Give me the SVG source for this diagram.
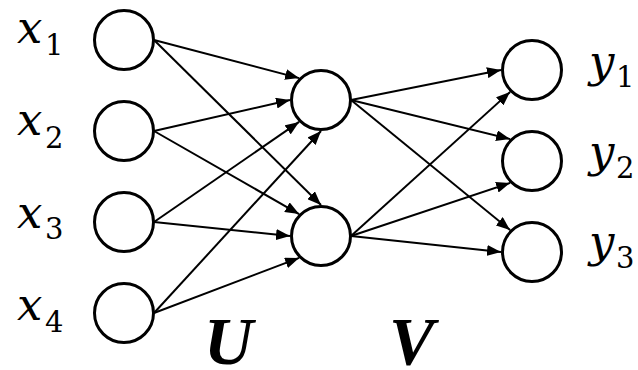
<svg xmlns="http://www.w3.org/2000/svg" width="638" height="370" viewBox="0 0 638 370">
<style>
.node{fill:#fff;stroke:#000;stroke-width:3}
.edge{stroke:#000;stroke-width:2;fill:none;marker-end:url(#ah)}
.v{font-family:"DejaVu Serif","Liberation Serif",serif;font-style:italic;font-size:45px;fill:#000}
.s{font-family:"DejaVu Serif","Liberation Serif",serif;font-size:29px;fill:#000}
.m{font-family:"Liberation Serif",serif;font-style:italic;font-weight:bold;font-size:68px;fill:#000}
</style>
<defs>
<marker id="ah" viewBox="0 0 14 11" markerUnits="userSpaceOnUse" markerWidth="14" markerHeight="11" refX="14" refY="5.5" orient="auto">
<path d="M0,0 L14,5.5 L0,11 z" fill="#000"/>
</marker>
</defs>
<g id="connectors">
<line class="edge" x1="154" y1="40" x2="299.1" y2="78.1"/>
<line class="edge" x1="154" y1="131" x2="290" y2="100"/>
<line class="edge" x1="154" y1="222" x2="299.1" y2="121.9"/>
<line class="edge" x1="154" y1="313" x2="321" y2="131"/>
<line class="edge" x1="154" y1="40" x2="321" y2="205"/>
<line class="edge" x1="154" y1="131" x2="299.1" y2="214.1"/>
<line class="edge" x1="154" y1="222" x2="290" y2="236"/>
<line class="edge" x1="154" y1="313" x2="299.1" y2="257.9"/>
<line class="edge" x1="351" y1="100" x2="501" y2="70"/>
<line class="edge" x1="351" y1="100" x2="510.1" y2="139.1"/>
<line class="edge" x1="351" y1="100" x2="510.1" y2="230.1"/>
<line class="edge" x1="351" y1="236" x2="510.1" y2="91.9"/>
<line class="edge" x1="351" y1="236" x2="510.1" y2="182.9"/>
<line class="edge" x1="351" y1="236" x2="501" y2="252"/>
</g>
<g id="x1"><circle class="node" cx="124" cy="40" r="29.5"/><text class="v" x="17" y="43">x</text><text class="s" x="45" y="55">1</text></g>
<g id="x2"><circle class="node" cx="124" cy="131" r="29.5"/><text class="v" x="17" y="135">x</text><text class="s" x="45" y="148">2</text></g>
<g id="x3"><circle class="node" cx="124" cy="222" r="29.5"/><text class="v" x="17" y="228">x</text><text class="s" x="45" y="239">3</text></g>
<g id="x4"><circle class="node" cx="124" cy="313" r="29.5"/><text class="v" x="17" y="320">x</text><text class="s" x="45" y="332">4</text></g>
<g id="h1"><circle class="node" cx="321" cy="100" r="29.5"/></g>
<g id="h2"><circle class="node" cx="321" cy="236" r="29.5"/></g>
<g id="y1"><circle class="node" cx="532" cy="70" r="29.5"/><text class="v" x="589" y="77">y</text><text class="s" x="616" y="87">1</text></g>
<g id="y2"><circle class="node" cx="532" cy="161" r="29.5"/><text class="v" x="589" y="167">y</text><text class="s" x="616" y="178">2</text></g>
<g id="y3"><circle class="node" cx="532" cy="252" r="29.5"/><text class="v" x="589" y="257">y</text><text class="s" x="616" y="268">3</text></g>
<g id="labels"><text class="m" x="204" y="364">U</text><text class="m" x="389" y="364">V</text></g>
</svg>
